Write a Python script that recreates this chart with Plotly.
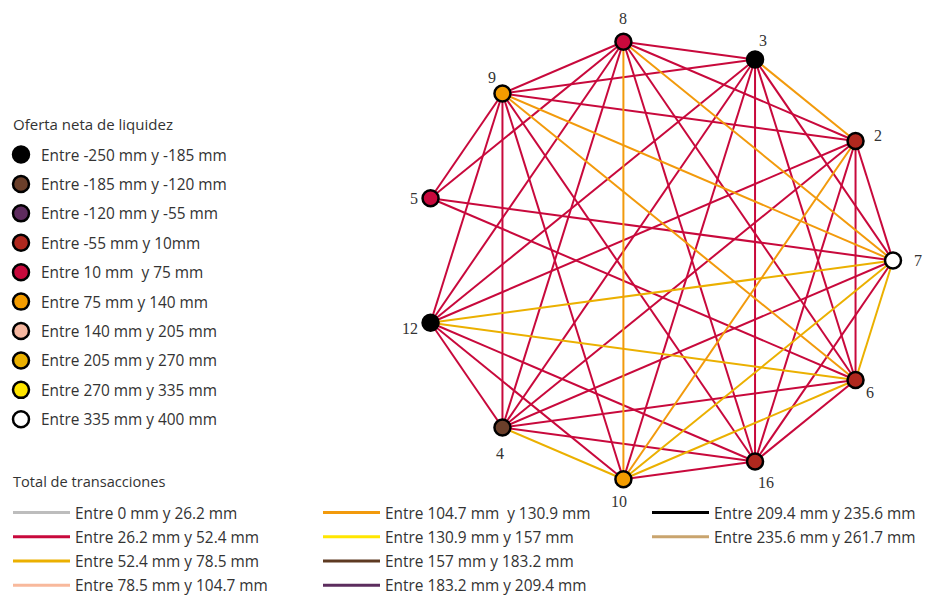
import numpy as np
import plotly.graph_objects as go

# ---------------- data ----------------
node_ids = ["8", "3", "2", "7", "6", "16", "10", "4", "12", "5", "9"]
node_class = [4, 0, 3, 9, 3, 3, 5, 1, 0, 4, 5]

node_class_labels = [
    "Entre -250 mm y -185 mm", "Entre -185 mm y -120 mm", "Entre -120 mm y -55 mm",
    "Entre -55 mm y 10mm", "Entre 10 mm  y 75 mm", "Entre 75 mm y 140 mm",
    "Entre 140 mm y 205 mm", "Entre 205 mm y 270 mm", "Entre 270 mm y 335 mm",
    "Entre 335 mm y 400 mm",
]
node_class_colors = ["#000000", "#6B3F2A", "#5E2B5E", "#B0281E", "#C8093C",
                     "#F39C00", "#F5B7A0", "#EAB000", "#FFE500", "#FFFFFF"]

edge_source = ["8", "8", "8", "8", "8", "8", "8", "8", "8", "8",
               "9", "9", "9", "9", "9", "9", "9", "9", "9",
               "3", "3", "3", "3", "3", "3", "3",
               "2", "2", "2", "2", "2", "2",
               "7", "7", "7", "7", "7", "7",
               "6", "6", "6", "6", "6",
               "16", "16", "16",
               "10", "10",
               "4"]
edge_target = ["9", "3", "2", "7", "6", "16", "10", "4", "12", "5",
               "3", "2", "7", "6", "16", "10", "4", "12", "5",
               "2", "7", "6", "16", "10", "4", "12",
               "7", "6", "16", "10", "4", "12",
               "6", "16", "10", "4", "12", "5",
               "16", "10", "4", "12", "5",
               "10", "4", "12",
               "4", "12",
               "12"]
edge_class = [1, 1, 1, 4, 1, 1, 4, 1, 1, 1,
              1, 1, 4, 4, 1, 1, 1, 1, 1,
              4, 1, 1, 1, 1, 1, 1,
              1, 1, 1, 4, 1, 1,
              2, 1, 2, 1, 2, 1,
              1, 2, 1, 2, 1,
              1, 1, 1,
              2, 1,
              1]

edge_class_labels = [
    "Entre 0 mm y 26.2 mm", "Entre 26.2 mm y 52.4 mm", "Entre 52.4 mm y 78.5 mm",
    "Entre 78.5 mm y 104.7 mm", "Entre 104.7 mm  y 130.9 mm", "Entre 130.9 mm y 157 mm",
    "Entre 157 mm y 183.2 mm", "Entre 183.2 mm y 209.4 mm", "Entre 209.4 mm y 235.6 mm",
    "Entre 235.6 mm y 261.7 mm",
]
edge_class_colors = ["#BDBDBD", "#C8093C", "#EBB000", "#F8B99C", "#F29A0C",
                     "#FFE600", "#5E3A22", "#5C2D5E", "#000000", "#C9A46E"]

# label offsets from the node centre, in px (right, down)
label_dx = [0, 8, 22, 25, 14, 11, -4, -2, -21, -17, -10]
label_dy = [-23, -19, -6, 0, 13, 21, 22, 26, 6, 0, -16]

legend_title_nodes = "Oferta neta de liquidez"
legend_title_edges = "Total de transacciones"

# ---------------- circular layout ----------------
n = len(node_ids)
start_deg = 90.0 - 3 * 360.0 / n          # node "7" due east
theta = np.deg2rad(start_deg + 360.0 / n * np.arange(n))
px_ = np.sin(theta)
py_ = np.cos(theta)
pos = {nid: (px_[i], py_[i]) for i, nid in enumerate(node_ids)}

FONT = "Open Sans"
LABEL_FONT = "Liberation Serif"
TXT = "#333333"
fig = go.Figure()

# edges, one trace per class
for c in sorted(set(edge_class)):
    xs, ys = [], []
    for s, t, k in zip(edge_source, edge_target, edge_class):
        if k != c:
            continue
        xs += [pos[s][0], pos[t][0], None]
        ys += [pos[s][1], pos[t][1], None]
    fig.add_trace(go.Scatter(x=xs, y=ys, mode="lines",
                             line=dict(color=edge_class_colors[c], width=2),
                             hoverinfo="skip", showlegend=False))

# nodes
fig.add_trace(go.Scatter(
    x=px_, y=py_, mode="markers",
    marker=dict(size=16, color=[node_class_colors[k] for k in node_class],
                line=dict(color="#000000", width=2.5)),
    hovertext=node_ids, hoverinfo="text", showlegend=False, cliponaxis=False))

# legend entries - nodes
for i, (lab, col) in enumerate(zip(node_class_labels, node_class_colors)):
    fig.add_trace(go.Scatter(x=[None], y=[None], mode="markers", name=lab,
                             legendgroup="n%d" % i, legend="legend",
                             marker=dict(size=16, color=col,
                                         line=dict(color="#000000", width=2.5))))

# legend entries - edges (three columns)
for i, (lab, col) in enumerate(zip(edge_class_labels, edge_class_colors)):
    leg = "legend2" if i < 4 else ("legend3" if i < 8 else "legend4")
    fig.add_trace(go.Scatter(x=[None], y=[None], mode="lines", name=lab,
                             legendgroup="e%d" % i, legend=leg,
                             line=dict(color=col, width=3)))

# figure geometry (px, figure coordinates)
W, H = 934, 596
cx, cy, rx, ry = 649, 252.5, 236, 221
xr = [-cx / rx, (W - cx) / rx]
yr = [-(H - cy) / ry, cy / ry]

annotations = [
    dict(x=pos[nid][0], y=pos[nid][1], text=nid, showarrow=False,
         xshift=dx, yshift=-dy, xanchor="center", yanchor="middle",
         font=dict(family=LABEL_FONT, size=16, color=TXT))
    for nid, dx, dy in zip(node_ids, label_dx, label_dy)
]
annotations += [
    dict(text=legend_title_nodes, xref="paper", yref="paper", x=3 / W, y=1 - 116 / H,
         xanchor="left", yanchor="middle", showarrow=False,
         font=dict(family=FONT, size=15, color=TXT)),
    dict(text=legend_title_edges, xref="paper", yref="paper", x=3 / W, y=1 - 473 / H,
         xanchor="left", yanchor="middle", showarrow=False,
         font=dict(family=FONT, size=14.6, color=TXT)),
]

legfont = dict(family=FONT, size=15.4, color=TXT)
common = dict(font=legfont, bgcolor="rgba(0,0,0,0)", xanchor="left", yanchor="top",
              traceorder="grouped", itemclick=False, itemdoubleclick=False)

fig.update_layout(
    width=W, height=H, margin=dict(l=0, r=0, t=0, b=0, autoexpand=False),
    paper_bgcolor="white", plot_bgcolor="white",
    xaxis=dict(range=xr, visible=False, fixedrange=True),
    yaxis=dict(range=yr, visible=False, fixedrange=True),
    legend=dict(x=-7 / W, y=1 - 130 / H, tracegroupgap=6.4, itemwidth=30, **common),
    legend2=dict(x=0.0, y=1 - 488 / H, tracegroupgap=1.2, itemwidth=57, **common),
    legend3=dict(x=310 / W, y=1 - 488 / H, tracegroupgap=1.2, itemwidth=57, **common),
    legend4=dict(x=639 / W, y=1 - 488 / H, tracegroupgap=1.2, itemwidth=57, **common),
    annotations=annotations,
    hovermode="closest",
)

fig.write_html("out.html", config={"displayModeBar": False})
